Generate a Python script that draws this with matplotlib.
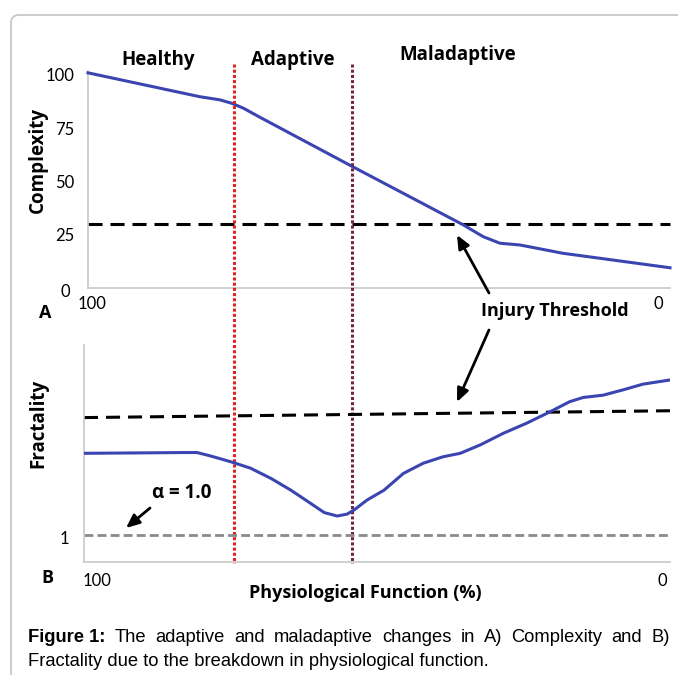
import matplotlib
matplotlib.use("Agg")
import matplotlib.pyplot as plt
import matplotlib.transforms as mtransforms
from matplotlib.patches import FancyBboxPatch, FancyArrowPatch

# ---------------- data ----------------
complexity_x = [100, 80.8, 77.3, 75.3, 73.3, 70.5, 54.7, 35.5,
                32.1, 29.2, 25.8, 18.4, 0]
complexity_y = [101.0, 89.8, 88.3, 86.7, 84.4, 80.2, 57.2, 29.6,
                24.1, 21.0, 20.2, 16.3, 9.5]
threshold_top = 30

fractality_x = [100, 82.9, 80.7, 78.4, 75.0, 71.6, 68.1, 64.7, 61.3, 59.0, 56.8, 55.1,
                53.9, 51.7, 48.8, 45.5, 42.1, 38.7, 35.8, 32.4, 28.4, 24.5, 20.5, 17.1,
                14.8, 11.4, 8.0, 4.6, 0]
fractality_y = [1.215, 1.217, 1.217, 1.208, 1.193, 1.176, 1.149, 1.118, 1.083, 1.059,
                1.050, 1.055, 1.066, 1.092, 1.118, 1.162, 1.189, 1.206, 1.215, 1.237,
                1.268, 1.294, 1.324, 1.351, 1.362, 1.368, 1.382, 1.397, 1.408]
threshold_bottom_x = [100, 0]
threshold_bottom_y = [1.309, 1.327]
alpha_line = 1.0

zone_bounds = [75, 54.6]
zone_labels = ["Healthy", "Adaptive", "Maladaptive"]
top_yticks = [0, 25, 50, 75, 100]
x_ticks = [100, 0]

W, H = 678, 675
fig = plt.figure(figsize=(W / 100, H / 100), dpi=100)
fig.patch.set_facecolor("white")


def fx(px):
    return px / W


def fy(py):
    return 1 - py / H


# Frame
frame = FancyBboxPatch((fx(11), fy(700)), fx(700), fy(15) - fy(700),
                       boxstyle="round,pad=0,rounding_size=0.012",
                       transform=fig.transFigure, fill=False,
                       edgecolor="#c4c4c4", linewidth=1.2)
fig.add_artist(frame)

BLUE = "#3b45b2"
SPINE = "#c8c8c8"
FONT = "Lato"
BOLD = "Open Sans"


def shift(label, dx, dy=0):
    label.set_transform(label.get_transform() +
                        mtransforms.ScaledTranslation(dx / 100, -dy / 100, fig.dpi_scale_trans))


# ---------- Top axes ----------
ax1 = fig.add_axes([fx(88), fy(288), fx(670) - fx(88), fy(70.7) - fy(288)])
ax1.patch.set_alpha(0)
ax1.set_xlim(100, 0)
ax1.set_ylim(0, 102)
ax1.plot(complexity_x, complexity_y, color=BLUE, lw=2.2, clip_on=False, zorder=3)
ax1.axhline(threshold_top, color="black", lw=2.2, ls=(0, (4.6, 2.6)), zorder=2, clip_on=False)
for s in ["top", "right"]:
    ax1.spines[s].set_visible(False)
for s in ["left", "bottom"]:
    ax1.spines[s].set_color(SPINE)
    ax1.spines[s].set_linewidth(1.2)
ax1.set_yticks(top_yticks)
ax1.set_yticklabels([str(v) for v in top_yticks], fontsize=12, family=FONT)
ax1.tick_params(axis="y", length=0, pad=10)
ax1.set_xticks(x_ticks)
ax1.set_xticklabels([str(v) for v in x_ticks], fontsize=12, family=FONT)
ax1.tick_params(axis="x", length=0, pad=6)
xl = ax1.get_xticklabels()
shift(xl[0], 4.5)
shift(xl[1], -12)
yl = ax1.get_yticklabels()
shift(yl[0], -4, 2)
fig.text(fx(38), fy(160), "Complexity", rotation=90, ha="center", va="center",
         fontsize=13.5, fontweight="bold", family=BOLD)

# ---------- Bottom axes ----------
ax2 = fig.add_axes([fx(84), fy(562), fx(670) - fx(84), fy(345) - fy(562)])
ax2.patch.set_alpha(0)
ax2.set_xlim(100, 0)
ax2.set_ylim(0.929, 1.5)
ax2.plot(fractality_x, fractality_y, color=BLUE, lw=2.2, zorder=3)
ax2.plot(threshold_bottom_x, threshold_bottom_y, color="black", lw=2.2,
         ls=(0, (4.6, 2.6)), zorder=2)
ax2.axhline(alpha_line, color="#8a8a8a", lw=2.0, ls=(0, (3.2, 1.5)), zorder=2)
for s in ["top", "right"]:
    ax2.spines[s].set_visible(False)
for s in ["left", "bottom"]:
    ax2.spines[s].set_color(SPINE)
    ax2.spines[s].set_linewidth(1.2)
ax2.set_yticks([alpha_line])
ax2.set_yticklabels(["1"], fontsize=12, family=FONT)
ax2.tick_params(axis="y", length=0, pad=11)
shift(ax2.get_yticklabels()[0], 0, 2)
ax2.set_xticks(x_ticks)
ax2.set_xticklabels([str(v) for v in x_ticks], fontsize=12, family=FONT)
ax2.tick_params(axis="x", length=0, pad=8)
xl2 = ax2.get_xticklabels()
shift(xl2[0], 13)
shift(xl2[1], -8)
fig.text(fx(38), fy(423), "Fractality", rotation=90, ha="center", va="center",
         fontsize=13.5, fontweight="bold", family=BOLD)

# Zone boundary lines spanning both panels
trans = mtransforms.blended_transform_factory(ax1.transData, fig.transFigure)
ax1.plot([zone_bounds[0]] * 2, [fy(64), fy(563)], transform=trans, color="#e02424",
         lw=2.2, ls=(0, (1.0, 0.7)), dash_capstyle="butt", clip_on=False, zorder=4)
ax1.plot([zone_bounds[1]] * 2, [fy(64), fy(563)], transform=trans, color="#742840",
         lw=2.2, ls=(0, (1.0, 0.7)), dash_capstyle="butt", clip_on=False, zorder=4)

# Zone labels
for (px, py), lab in zip([(158, 60), (293, 60), (458, 55)], zone_labels):
    fig.text(fx(px), fy(py), lab, ha="center", va="center", fontsize=13.5,
             fontweight="bold", family=BOLD)

# Panel letters
fig.text(fx(45), fy(313), "A", ha="center", va="center", fontsize=13, fontweight="bold", family=BOLD)
fig.text(fx(47), fy(578), "B", ha="center", va="center", fontsize=13, fontweight="bold", family=BOLD)

# Injury threshold annotation
fig.text(fx(555), fy(311), "Injury Threshold", ha="center", va="center", fontsize=13,
         fontweight="bold", family=BOLD)
arrowprops = dict(arrowstyle="-|>,head_length=0.8,head_width=0.35", color="black", lw=2.0,
                  shrinkA=0, shrinkB=0)
fig.add_artist(FancyArrowPatch((fx(489), fy(293)), (fx(457), fy(235)),
                               transform=fig.transFigure, mutation_scale=10, **arrowprops))
fig.add_artist(FancyArrowPatch((fx(489), fy(330)), (fx(457), fy(402)),
                               transform=fig.transFigure, mutation_scale=10, **arrowprops))

# alpha annotation
fig.text(fx(182), fy(493), "α = 1.0", ha="center", va="center", fontsize=13.5,
         fontweight="bold", family=BOLD)
fig.add_artist(FancyArrowPatch((fx(150), fy(508)), (fx(126), fy(528)),
                               transform=fig.transFigure, mutation_scale=10, **arrowprops))

# X axis label
fig.text(fx(365), fy(593), "Physiological Function (%)", ha="center", va="center",
         fontsize=13, fontweight="bold", family=BOLD)

# Caption (first line justified)
CAP = "Liberation Sans"
CAPSIZE = 13.2
renderer = fig.canvas.get_renderer()
t0 = fig.text(fx(28), fy(638), "Figure 1:", ha="left", va="center", fontsize=CAPSIZE,
              fontweight="bold", family=CAP)
w0 = t0.get_window_extent(renderer).width
words = "The adaptive and maladaptive changes in A) Complexity and B)".split()
wtexts = [fig.text(0, fy(638), w, ha="left", va="center", fontsize=CAPSIZE, family=CAP)
          for w in words]
widths = [t.get_window_extent(renderer).width for t in wtexts]
gap = (670 - 28 - w0 - sum(widths)) / len(words)
x = 28 + w0 + gap
for t, w in zip(wtexts, widths):
    t.set_x(fx(x))
    x += w + gap
fig.text(fx(28), fy(661), "Fractality due to the breakdown in physiological function.",
         ha="left", va="center", fontsize=CAPSIZE, family=CAP)

fig.savefig("out.png", dpi=100, facecolor="white")
